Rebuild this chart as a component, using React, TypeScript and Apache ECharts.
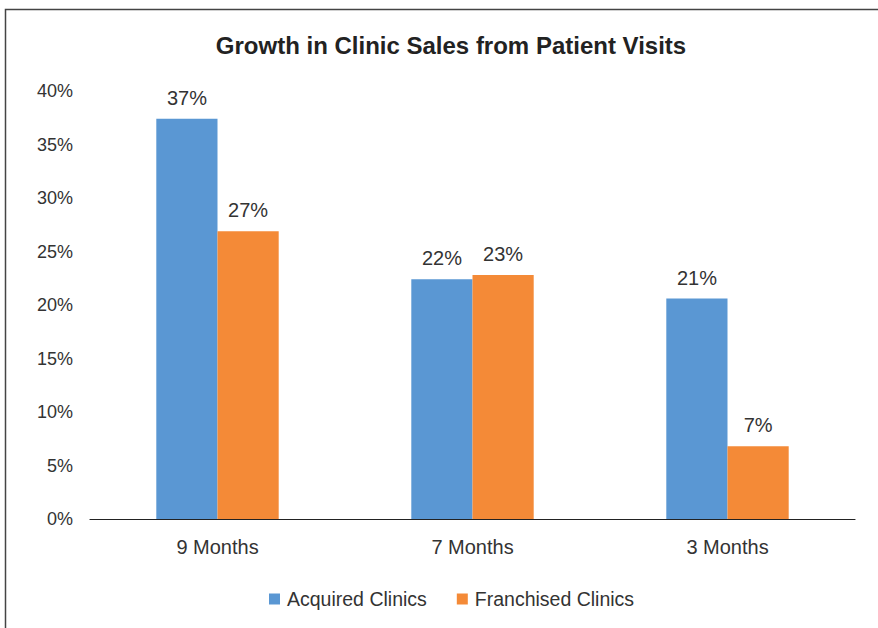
import React, { useEffect, useRef } from "react";
import * as echarts from "echarts";

const categories = ["9 Months", "7 Months", "3 Months"];
const acquired = [37.4, 22.4, 20.6];
const franchised = [26.9, 22.8, 6.8];
const yTicks = { min: 0, max: 40, interval: 5 };

const FONT = "'Liberation Sans', Arial, Helvetica, sans-serif";

export default function App() {
  const ref = useRef<HTMLDivElement>(null);
  useEffect(() => {
    if (!ref.current) return;
    const chart = echarts.init(ref.current, null, { renderer: "svg" });
    const label = {
      show: true,
      position: "top",
      distance: 11,
      fontSize: 20,
      fontFamily: FONT,
      color: "#333",
      formatter: (p: any) => Math.round(p.value) + "%",
    };
    chart.setOption({
      animation: false,
      backgroundColor: "#fff",
      textStyle: { fontFamily: FONT },
      graphic: [
        {
          type: "rect",
          shape: { x: 5.5, y: 9.5, width: 900, height: 700 },
          style: { fill: "none", stroke: "#444", lineWidth: 1.5 },
          silent: true,
          z: -10,
        },
      ],
      title: {
        text: "Growth in Clinic Sales from Patient Visits",
        left: 446,
        textAlign: "center",
        top: 28,
        textStyle: { fontSize: 24, fontWeight: "bold", color: "#222", fontFamily: FONT },
      },
      legend: {
        bottom: 14,
        left: 264,
        itemWidth: 11,
        itemHeight: 11,
        itemGap: 30,
        icon: "rect",
        textStyle: { fontSize: 19.5, color: "#333", fontFamily: FONT, padding: [0, 0, 0, 2] },
        data: ["Acquired Clinics", "Franchised Clinics"],
      },
      grid: { left: 90, right: 23, top: 91, bottom: 109, containLabel: false },
      xAxis: {
        type: "category",
        data: categories,
        axisLine: { show: true, lineStyle: { color: "#222", width: 1.2 } },
        axisTick: { show: false },
        axisLabel: { fontSize: 20, color: "#333", margin: 18, fontFamily: FONT },
      },
      yAxis: {
        type: "value",
        min: yTicks.min,
        max: yTicks.max,
        interval: yTicks.interval,
        axisLine: { show: false },
        axisTick: { show: false },
        splitLine: { show: false },
        axisLabel: {
          fontSize: 18,
          color: "#333",
          margin: 17,
          fontFamily: FONT,
          formatter: (v: number) => v + "%",
        },
      },
      series: [
        {
          name: "Acquired Clinics",
          type: "bar",
          data: acquired,
          barGap: "0%",
          barCategoryGap: "52%",
          itemStyle: { color: "#5A97D3" },
          label,
        },
        {
          name: "Franchised Clinics",
          type: "bar",
          data: franchised,
          barGap: "0%",
          barCategoryGap: "52%",
          itemStyle: { color: "#F48A37" },
          label,
        },
      ],
    });
    return () => chart.dispose();
  }, []);
  return (
    <div
      ref={ref}
      style={{ position: "fixed", left: 0, top: 0, width: 878, height: 628 }}
    />
  );
}
